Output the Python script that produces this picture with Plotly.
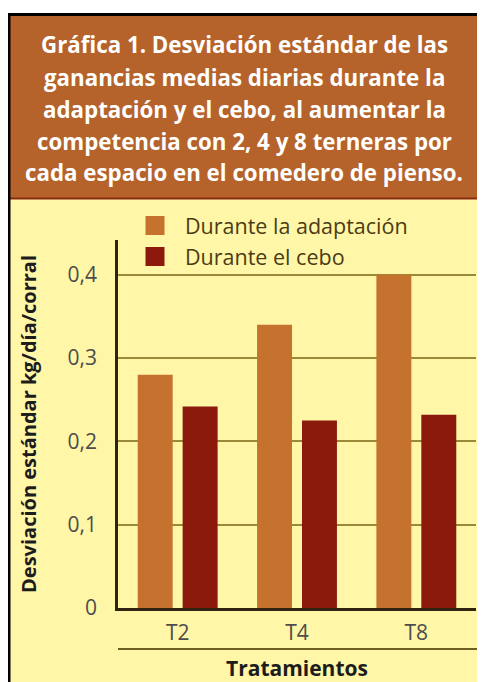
import plotly.graph_objects as go

# ---------------- data ----------------
categories = ["T2", "T4", "T8"]
adaptacion = [0.28, 0.34, 0.40]
cebo = [0.242, 0.225, 0.232]
series_names = ["Durante la adaptación", "Durante el cebo"]
y_tick_vals = [0, 0.1, 0.2, 0.3, 0.4]
y_tick_text = ["0", "0,1", "0,2", "0,3", "0,4"]
title_lines = [
    "Gráfica 1. Desviación estándar de las",
    "ganancias medias diarias durante la",
    "adaptación y el cebo, al aumentar la",
    "competencia con 2, 4 y 8 terneras por",
    "cada espacio en el comedero de pienso.",
]
y_title = "Desviación estándar kg/día/corral"
x_title = "Tratamientos"

# ---------------- style / layout ----------------
OFF = 8                      # page body margin of the html page
W, H = 485 - OFF, 682 - OFF  # figure size
# plot area in page pixels
PL, PR, PT, PB = 118, 476, 240, 608
L, T = PL - OFF, PT - OFF
R, B = W - (PR - OFF), H - (PB - OFF)
PW, PH = PR - PL, PB - PT
FONT = "Open Sans"
C_ADAPT = "#C5722F"
C_CEBO = "#8B1A0C"
C_YELLOW = "#FFF6A8"
C_BROWN = "#B5632B"
C_GRID = "#9A8A38"
C_AXIS = "#2E2410"


def px_x(x):
    """page pixel x -> paper coordinate"""
    return (x - PL) / PW


def px_y(y):
    """page pixel y -> paper coordinate"""
    return (PB - y) / PH


fig = go.Figure()
fig.add_trace(go.Bar(x=categories, y=adaptacion, name=series_names[0],
                     marker=dict(color=C_ADAPT, line=dict(width=0)), showlegend=False))
fig.add_trace(go.Bar(x=categories, y=cebo, name=series_names[1],
                     marker=dict(color=C_CEBO, line=dict(width=0)), showlegend=False))
# legend proxies (larger swatches)
for nm, col in zip(series_names, [C_ADAPT, C_CEBO]):
    fig.add_trace(go.Scatter(x=[None], y=[None], mode="markers", name=nm, legendgroup=nm,
                             marker=dict(symbol="square", size=16, color=col,
                                         line=dict(width=3, color=col))))

shapes = [
    dict(type="rect", xref="paper", yref="paper", x0=px_x(0), x1=px_x(490), y0=px_y(690), y1=px_y(199),
         fillcolor=C_YELLOW, line=dict(width=0), layer="below"),
    dict(type="rect", xref="paper", yref="paper", x0=px_x(0), x1=px_x(490), y0=px_y(198), y1=px_y(15),
         fillcolor=C_BROWN, line=dict(width=0), layer="below"),
    dict(type="line", xref="paper", yref="paper", x0=px_x(0), x1=px_x(490), y0=px_y(198.5), y1=px_y(198.5),
         line=dict(color="#8A2A12", width=2), layer="below"),
    dict(type="line", xref="paper", yref="paper", x0=px_x(0), x1=px_x(490), y0=px_y(14.5), y1=px_y(14.5),
         line=dict(color="black", width=3)),
    dict(type="line", xref="paper", yref="paper", x0=px_x(8.5), x1=px_x(8.5), y0=px_y(13), y1=px_y(690),
         line=dict(color="black", width=4)),
    dict(type="line", xref="paper", yref="paper", x0=0, x1=px_x(477), y0=px_y(649), y1=px_y(649),
         line=dict(color="#6E5E22", width=2)),
]

line_centers = [45, 77, 109, 141, 172]
annotations = [
    dict(text=t, xref="paper", yref="paper", x=px_x(244), y=px_y(yc), showarrow=False,
         xanchor="center", yanchor="middle",
         font=dict(family=FONT, size=22.3, color="white", weight="bold"))
    for t, yc in zip(title_lines, line_centers)
]

fig.update_layout(
    width=W, height=H,
    margin=dict(l=L, r=R, t=T, b=B, pad=0, autoexpand=False),
    paper_bgcolor="white",
    plot_bgcolor="rgba(0,0,0,0)",
    barmode="group", bargap=0.247, bargroupgap=0.222,
    font=dict(family=FONT, color="#4a4a4a"),
    shapes=shapes,
    annotations=annotations,
    showlegend=True,
    legend=dict(x=px_x(125), y=px_y(205), xanchor="left", yanchor="top",
                bgcolor="rgba(0,0,0,0)", font=dict(family=FONT, size=21.5, color="#4B3B14"),
                itemwidth=50, tracegroupgap=1, traceorder="normal"),
    xaxis=dict(type="category", categoryorder="array", categoryarray=categories,
               range=[-0.5, 2.5], showline=True, linecolor=C_AXIS, linewidth=2.5,
               showgrid=False, ticks="", tickfont=dict(family=FONT, size=21, color="#4d4d4d"),
               ticklabelstandoff=4, automargin=False,
               title=dict(text=x_title, standoff=20,
                          font=dict(family=FONT, size=21, color="#1c1c1c", weight="bold"))),
    yaxis=dict(range=[0, 0.4418], tickvals=y_tick_vals, ticktext=y_tick_text,
               showline=True, linecolor=C_AXIS, linewidth=2.5, zeroline=False,
               showgrid=True, gridcolor=C_GRID, gridwidth=1.5, ticks="",
               tickfont=dict(family=FONT, size=21, color="#4d4d4d"), ticklabelstandoff=14,
               automargin=False,
               title=dict(text=y_title, standoff=26,
                          font=dict(family=FONT, size=20, color="#1c1c1c", weight="bold"))),
)

fig.write_html("out.html")
